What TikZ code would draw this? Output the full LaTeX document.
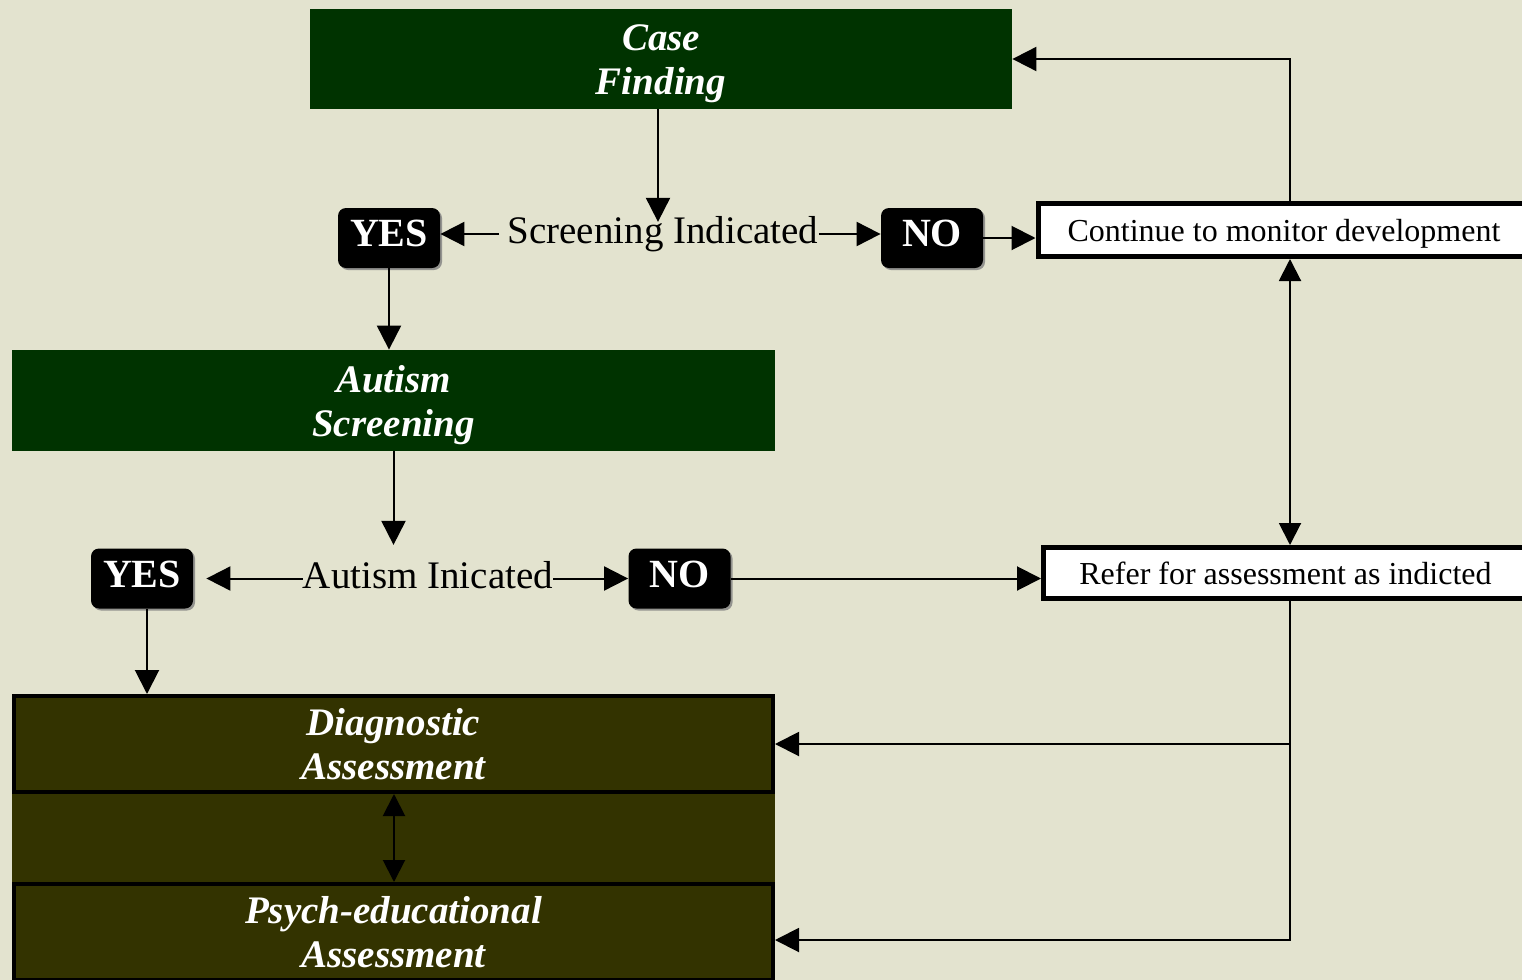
\documentclass[tikz,border=0pt]{standalone}
\usepackage{fontspec}
\setmainfont{Liberation Serif}
\usetikzlibrary{arrows.meta,shadows}
\definecolor{bgc}{HTML}{E3E3CF}
\definecolor{dgreen}{HTML}{003300}
\definecolor{oliv}{HTML}{333300}
\begin{document}
\begin{tikzpicture}[x=0.5pt,y=-0.5pt,
 arr/.style={line width=1pt,-{Triangle[length=12pt,width=12pt]}},
 darr/.style={line width=1pt,{Triangle[length=11pt,width=11pt]}-{Triangle[length=11pt,width=11pt]}},
 title/.style={text=white,font=\fontsize{19.5}{22}\selectfont\bfseries\itshape,align=center,inner sep=0pt},
 greenbox/.style={title,fill=dgreen},
 olivebox/.style={title,fill=oliv,draw=black,line width=2pt,minimum width=379.5pt,minimum height=48pt},
 yn/.style={fill=black,rounded corners=4pt,text=white,font=\fontsize{20}{22}\selectfont\bfseries,minimum width=51pt,minimum height=30pt,inner sep=0pt,text depth=4.5pt,drop shadow={shadow xshift=1pt,shadow yshift=-1pt,fill=gray,opacity=.8}},
 wbox/.style={fill=white,draw=black,line width=2.5pt,font=\fontsize{16}{19}\selectfont,inner sep=0pt,text height=12pt,text depth=1pt},
 lbl/.style={font=\fontsize{19.5}{22}\selectfont,inner sep=0pt}
]
\fill[bgc] (0,0) rectangle (1522,980);
\useasboundingbox (0,0) rectangle (1522,980);
\coordinate (rx) at (1290,0);
\coordinate (cx) at (658,0);
\coordinate (yx) at (147,0);
\coordinate (mx) at (394,0);

\node[greenbox,minimum width=351pt,minimum height=50pt] (case) at (661,59) {\rule{0pt}{18pt}Case\\Finding};
\node[lbl] (scr) at (663,234) {Screening Indicated};
\node[yn] (yes1) at (389,238) {YES};
\node[yn] (no1) at (932,238) {NO};
\node[wbox,minimum width=246pt,minimum height=26.5pt] (cont) at (1284,230) {Continue to monitor development};

\node[greenbox,minimum width=381.5pt,minimum height=50.5pt] (scrn) at (393.5,400.5) {\rule{0pt}{18pt}Autism\\Screening};
\node[lbl] (ai) at (428,575) {Autism Inicated};
\node[yn] (yes2) at (142,578.5) {YES};
\node[yn] (no2) at (679.5,578.5) {NO};
\node[wbox,minimum width=242pt,minimum height=25.5pt] (refer) at (1285.5,573) {Refer for assessment as indicted};

\fill[oliv] (12,694) rectangle (775,980);
\node[olivebox] (diag) at (393.5,744) {Diagnostic\\Assessment};
\node[olivebox] (psych) at (393.5,932) {Psych-educational\\Assessment};

\draw[arr] (case.south -| cx) -- ([yshift=-3pt]scr.north -| cx);
\draw[arr] ([xshift=-4pt]scr.west) -- (yes1.east |- scr.west);
\draw[arr] (scr.east) -- (no1.west |- scr.east);
\draw[arr] (no1.east) -- (cont.west |- no1.east);
\draw[arr] (cont.north -| rx) |- (case.east);
\draw[darr] (cont.south -| rx) -- (refer.north -| rx);
\draw[arr] (yes1.south) -- (scrn.north -| yes1.south);
\draw[arr] (scrn.south) -- ([yshift=8pt]scrn.south |- ai.north);
\draw[arr] (ai.west |- yes2.east) -- ([xshift=6.5pt]yes2.east);
\draw[arr] (ai.east |- no2.west) -- (no2.west);
\draw[arr] (no2.east) -- (refer.west |- no2.east);
\draw[arr] (yes2.south -| yx) -- (diag.north -| yx);
\draw[arr] (refer.south -| rx) |- (diag.east);
\draw[arr] (refer.south -| rx) |- ([yshift=-4pt]psych.east);
\draw[darr] (diag.south -| mx) -- (psych.north -| mx);
\end{tikzpicture}
\end{document}
